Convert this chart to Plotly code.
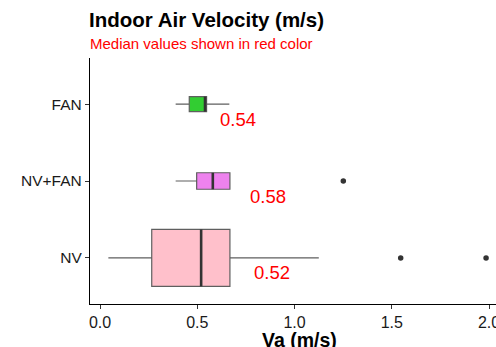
import plotly.graph_objects as go

# ---- data ----
groups = ["NV", "NV+FAN", "FAN"]
positions = [1, 2, 3]
lower_whisker = [0.043, 0.389, 0.389]
q1 = [0.266, 0.497, 0.459]
median = [0.52, 0.58, 0.54]
q3 = [0.668, 0.668, 0.548]
upper_whisker = [1.125, 0.668, 0.665]
box_widths = [0.74, 0.215, 0.195]
fill_colors = ["#FFC0CB", "#EE82EE", "#32CD32"]
outlier_group = [1, 1, 2]
outlier_values = [1.546, 1.985, 1.251]
median_labels = ["0.52", "0.58", "0.54"]
label_x = [0.883, 0.864, 0.709]

x_ticks = [0.0, 0.5, 1.0, 1.5, 2.0]
x_ticklabels = ["0.0", "0.5", "1.0", "1.5", "2.0"]

FONT = "Liberation Sans, Arial, sans-serif"

fig = go.Figure()

for i, g in enumerate(groups):
    fig.add_trace(go.Box(
        orientation="h",
        y=[positions[i]],
        q1=[q1[i]], median=[median[i]], q3=[q3[i]],
        lowerfence=[lower_whisker[i]], upperfence=[upper_whisker[i]],
        width=box_widths[i],
        fillcolor=fill_colors[i],
        line=dict(color="#5f5f5f", width=1.2),
        whiskerwidth=0,
        boxpoints=False,
        name=g,
        showlegend=False,
        hoverinfo="skip",
    ))
    # thicker median line
    fig.add_trace(go.Scatter(
        x=[median[i], median[i]],
        y=[positions[i] - box_widths[i] / 2, positions[i] + box_widths[i] / 2],
        mode="lines",
        line=dict(color="#333333", width=2.6),
        showlegend=False, hoverinfo="skip",
    ))

fig.add_trace(go.Scatter(
    x=outlier_values, y=outlier_group, mode="markers",
    marker=dict(color="#333333", size=5.5),
    showlegend=False, hoverinfo="skip",
))

annotations = []
for i in range(len(groups)):
    annotations.append(dict(
        x=label_x[i], y=positions[i], xref="x", yref="y",
        text=median_labels[i], showarrow=False,
        font=dict(family=FONT, size=18.5, color="#FF0000"),
        xanchor="center", yanchor="middle", yshift=-15,
    ))

annotations += [
    dict(x=0, y=1.158, xref="paper", yref="paper", text="<b>Indoor Air Velocity (m/s)</b>",
         showarrow=False, xanchor="left", yanchor="middle", xshift=-3,
         font=dict(family=FONT, size=20.5, color="#000000")),
    dict(x=0, y=1.057, xref="paper", yref="paper", text="Median values shown in red color",
         showarrow=False, xanchor="left", yanchor="middle", xshift=-2,
         font=dict(family=FONT, size=15, color="#FF0000")),
    dict(x=0.515, y=-0.147, xref="paper", yref="paper", text="<b>Va (m/s)</b>",
         showarrow=False, xanchor="center", yanchor="middle",
         font=dict(family=FONT, size=19.5, color="#000000")),
]

fig.update_layout(
    width=496, height=347,
    margin=dict(l=90, r=0, t=58, b=43),
    paper_bgcolor="white", plot_bgcolor="white",
    annotations=annotations,
    font=dict(family=FONT),
)
fig.update_xaxes(
    range=[-0.0514, 2.036],
    automargin=False,
    tickvals=x_ticks, ticktext=x_ticklabels,
    ticklabeloverflow="allow",
    showgrid=False, zeroline=False,
    showline=True, linecolor="#000000", linewidth=1.3,
    ticks="outside", ticklen=4, tickcolor="#333333", tickwidth=1,
    tickfont=dict(family=FONT, size=16, color="#1a1a1a"),
)
fig.update_yaxes(
    range=[0.4, 3.6],
    automargin=False,
    tickvals=positions, ticktext=groups,
    showgrid=False, zeroline=False,
    showline=True, linecolor="#000000", linewidth=1.3,
    ticks="outside", ticklen=4, tickcolor="#333333", tickwidth=1,
    tickfont=dict(family=FONT, size=15.5, color="#1a1a1a"),
)

fig.write_html("out.html")
